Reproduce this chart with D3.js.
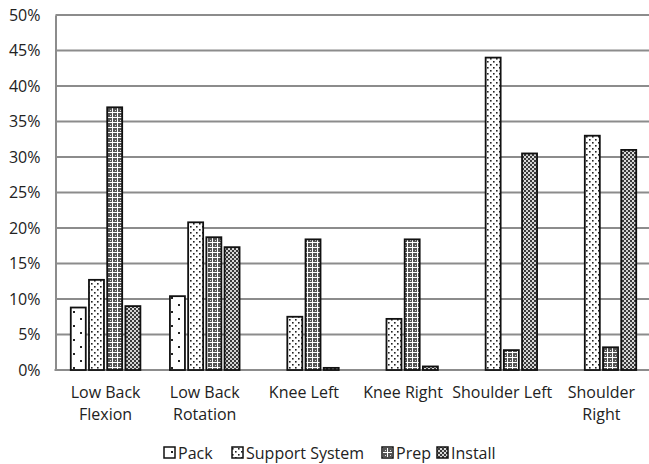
<!DOCTYPE html>
<html><head><meta charset="utf-8">
<script src="https://cdn.jsdelivr.net/npm/d3@7"></script>
<style>body{margin:0;background:#fff}svg{display:block}text{font-family:"Open Sans",sans-serif;fill:#222}</style>
</head><body>
<svg id="c" width="649" height="464"></svg>
<script>
const categories = [["Low Back","Flexion"],["Low Back","Rotation"],["Knee Left"],["Knee Right"],["Shoulder Left"],["Shoulder","Right"]];
const seriesNames = ["Pack","Support System","Prep","Install"];
const pack = [8.8, 10.4, 0, 0, 0, 0];
const support = [12.7, 20.8, 7.5, 7.2, 44.0, 33.0];
const prep = [37.0, 18.7, 18.4, 18.4, 2.8, 3.2];
const install = [9.0, 17.3, 0.3, 0.5, 30.5, 31.0];
const yTicks = [0,5,10,15,20,25,30,35,40,45,50];

(function(){
const svg = d3.select("#c");
const defs = svg.append("defs");
function pat(id,w,h,bg,draw){const p=defs.append("pattern").attr("id",id).attr("patternUnits","userSpaceOnUse").attr("width",w).attr("height",h);p.append("rect").attr("width",w).attr("height",h).attr("fill",bg);draw(p);}
const dot=(p,x,yy,s,c)=>p.append("rect").attr("x",x).attr("y",yy).attr("width",s).attr("height",s).attr("fill",c);
pat("p0",14,14,"#fff",p=>{dot(p,3,3,2,"#222");dot(p,10,10,2,"#222");});
pat("p1",6,6,"#fff",p=>{dot(p,1,1,1.6,"#222");dot(p,4,4,1.6,"#222");});
pat("p2",5,5,"#555",p=>{p.append("rect").attr("x",2).attr("y",0).attr("width",1).attr("height",5).attr("fill","#fff");p.append("rect").attr("x",0).attr("y",2).attr("width",5).attr("height",1).attr("fill","#fff");dot(p,0,0,1,"#ddd");});
pat("p3",4,4,"#3a3a3a",p=>{dot(p,0,0,2,"#cfcfcf");dot(p,2,2,2,"#cfcfcf");dot(p,0.5,0.5,1,"#fff");});
const fills = ["url(#p0)","url(#p1)","url(#p2)","url(#p3)"];

const pl=56, pr=651, pt=15, pb=370, axisX=55.5, gridEnd=649;
const y = d3.scaleLinear().domain([0,50]).range([pb,pt]);
const x0 = d3.scaleBand().domain(d3.range(categories.length)).range([pl,pr]).paddingInner(0.298).paddingOuter(0.149);
const x1 = d3.scaleBand().domain(d3.range(4)).range([0,x0.bandwidth()]).paddingInner(0.176);

svg.append("g").selectAll("line").data(yTicks.filter(d=>d>0)).join("line")
 .attr("x1",axisX).attr("x2",gridEnd).attr("y1",d=>y(d)).attr("y2",d=>y(d)).attr("stroke","#8c8c8c").attr("stroke-width",2);
const yAxis = svg.append("g").attr("transform",`translate(${axisX},0)`).call(d3.axisLeft(y).tickValues(yTicks).tickFormat(d=>d+"%").tickSize(0).tickPadding(15));
yAxis.select(".domain").attr("stroke","#8c8c8c").attr("stroke-width",2);
yAxis.selectAll("text").style("font-size","16px").style("font-family","'Open Sans',sans-serif").attr("fill","#222");
svg.append("line").attr("x1",axisX-1).attr("x2",gridEnd).attr("y1",pb).attr("y2",pb).attr("stroke","#8c8c8c").attr("stroke-width",2);

const series=[pack,support,prep,install];
const g = svg.append("g");
series.forEach((vals,si)=>{
  g.selectAll(null).data(vals).join("rect")
   .attr("x",(d,i)=>x0(i)+x1(si)).attr("width",x1.bandwidth())
   .attr("y",d=>y(d)).attr("height",d=>pb-y(d))
   .attr("fill",fills[si]).attr("stroke",d=>d>0?"#111":"none").attr("stroke-width",1.8);
});

const lab = svg.append("g");
categories.forEach((c,i)=>{
  const cx=x0(i)+x0.bandwidth()/2;
  const t=lab.append("text").attr("x",cx).attr("y",398).attr("text-anchor","middle").style("font-size","16px");
  c.forEach((line,k)=>t.append("tspan").attr("x",cx).attr("dy",k?22:0).text(line));
});

const legX=[164,232,382,437];
const leg = svg.append("g");
seriesNames.forEach((n,i)=>{
  leg.append("rect").attr("x",legX[i]).attr("y",447).attr("width",11).attr("height",11).attr("fill",fills[i]).attr("stroke","#111").attr("stroke-width",1.5);
  leg.append("text").attr("x",legX[i]+14).attr("y",458.5).style("font-size","16px").text(n);
});
})();
</script>
</body></html>
